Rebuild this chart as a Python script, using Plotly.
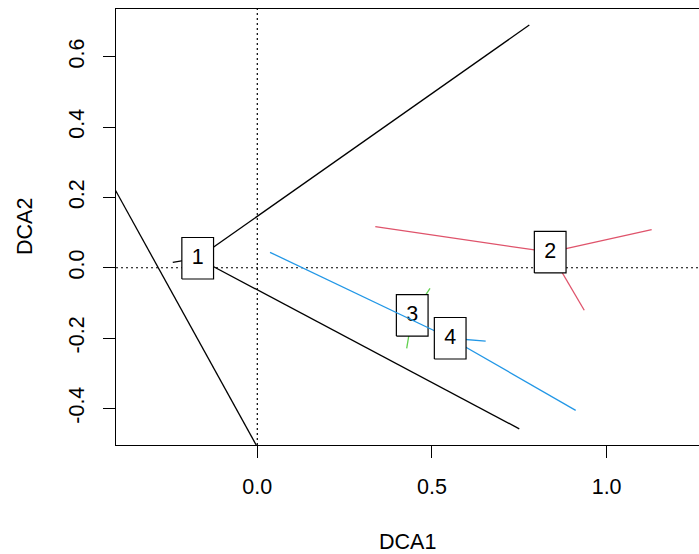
import plotly.graph_objects as go

# ---- data (DCA site scores + group centroids) ----
groups = ["1", "2", "3", "4"]
group_colors = ["#000000", "#DF536B", "#61D04F", "#2297E6"]
centroid_x = [-0.1706, 0.8385, 0.4435, 0.5522]
centroid_y = [0.0270, 0.0441, -0.1354, -0.2005]
site_x = [
    [-0.242, 0.7787, 0.750],
    [0.3378, 1.129, 0.936],
    [0.4944, 0.4277],
    [0.0364, 0.9115, 0.6539],
]
site_y = [
    [0.0154, 0.690, -0.458],
    [0.1166, 0.108, -0.121],
    [-0.0586, -0.2292],
    [0.0438, -0.4055, -0.2084],
]
# long black segment of group 1 that runs off the plotting region
extra_x = [-0.4476, 0.0193]
extra_y = [0.295, -0.5445]

x_ticks = [0.0, 0.5, 1.0]
x_ticktext = ["0.0", "0.5", "1.0"]
y_ticks = [-0.4, -0.2, 0.0, 0.2, 0.4, 0.6]
y_ticktext = ["-0.4", "-0.2", "0.0", "0.2", "0.4", "0.6"]

# ---- styling / layout constants ----
W, H = 699, 554
ML, MR, MT, MB = 116, 0, 9, 109
XR = [-0.4045, 1.2645]
YR = [-0.5040, 0.7356]
FONT = "Liberation Sans, Arial, Helvetica, sans-serif"
FS = 21.5
plot_w = W - ML - MR
plot_h = H - MT - MB
BOX_W_PX, BOX_H_PX = 31.7, 41.5
hw = BOX_W_PX / 2 / plot_w * (XR[1] - XR[0])
hh = BOX_H_PX / 2 / plot_h * (YR[1] - YR[0])

fig = go.Figure()

for gi, g in enumerate(groups):
    cx, cy = centroid_x[gi], centroid_y[gi]
    xs, ys = [], []
    for px, py in zip(site_x[gi], site_y[gi]):
        xs += [cx, px, None]
        ys += [cy, py, None]
    if gi == 0:
        xs += [extra_x[0], extra_x[1], None]
        ys += [extra_y[0], extra_y[1], None]
    fig.add_trace(go.Scatter(x=xs, y=ys, mode="lines",
                             line=dict(color=group_colors[gi], width=1.3),
                             hoverinfo="skip", showlegend=False))
    # label box (white filled, black border)
    fig.add_trace(go.Scatter(
        x=[cx - hw, cx + hw, cx + hw, cx - hw, cx - hw],
        y=[cy - hh, cy - hh, cy + hh, cy + hh, cy - hh],
        mode="lines", fill="toself", fillcolor="white",
        line=dict(color="black", width=1.2),
        hoverinfo="skip", showlegend=False))
    fig.add_trace(go.Scatter(
        x=[cx], y=[cy], mode="text", text=[g],
        textposition="middle center",
        textfont=dict(family=FONT, size=FS, color="black"),
        hoverinfo="skip", showlegend=False))

# dotted zero lines
fig.add_shape(type="line", xref="x", yref="paper", x0=0, x1=0, y0=0, y1=1,
              line=dict(color="black", width=1.2, dash="2px,3px"), layer="below")
fig.add_shape(type="line", xref="paper", yref="y", x0=0, x1=1, y0=0, y1=0,
              line=dict(color="black", width=1.2, dash="2px,3px"), layer="below")

fig.update_layout(
    width=W, height=H,
    margin=dict(l=ML, r=MR, t=MT, b=MB, pad=0),
    paper_bgcolor="white", plot_bgcolor="white",
    font=dict(family=FONT, size=FS, color="black"),
    showlegend=False,
    xaxis=dict(range=XR, tickvals=x_ticks, ticktext=x_ticktext,
               showgrid=False, zeroline=False, showline=True, mirror=True,
               linecolor="black", linewidth=1.2, ticks="outside", ticklen=12,
               tickwidth=1.2, tickcolor="black", ticklabelstandoff=10,
               tickfont=dict(family=FONT, size=FS, color="black")),
    yaxis=dict(range=YR, tickvals=y_ticks, ticktext=y_ticktext, tickangle=-90,
               showgrid=False, zeroline=False, showline=True, mirror=False,
               linecolor="black", linewidth=1.2, ticks="outside", ticklen=12,
               tickwidth=1.2, tickcolor="black", ticklabelstandoff=10,
               tickfont=dict(family=FONT, size=FS, color="black")),
    annotations=[
        dict(text="DCA1", xref="paper", yref="paper", x=0.5,
             y=-(542 - (H - MB)) / plot_h, xanchor="center", yanchor="middle",
             showarrow=False, font=dict(family=FONT, size=FS, color="black")),
        dict(text="DCA2", xref="paper", yref="paper", x=(25 - ML) / plot_w,
             y=0.5, xanchor="center", yanchor="middle", textangle=-90,
             showarrow=False, font=dict(family=FONT, size=FS, color="black")),
    ],
)

fig.write_html("out.html")
